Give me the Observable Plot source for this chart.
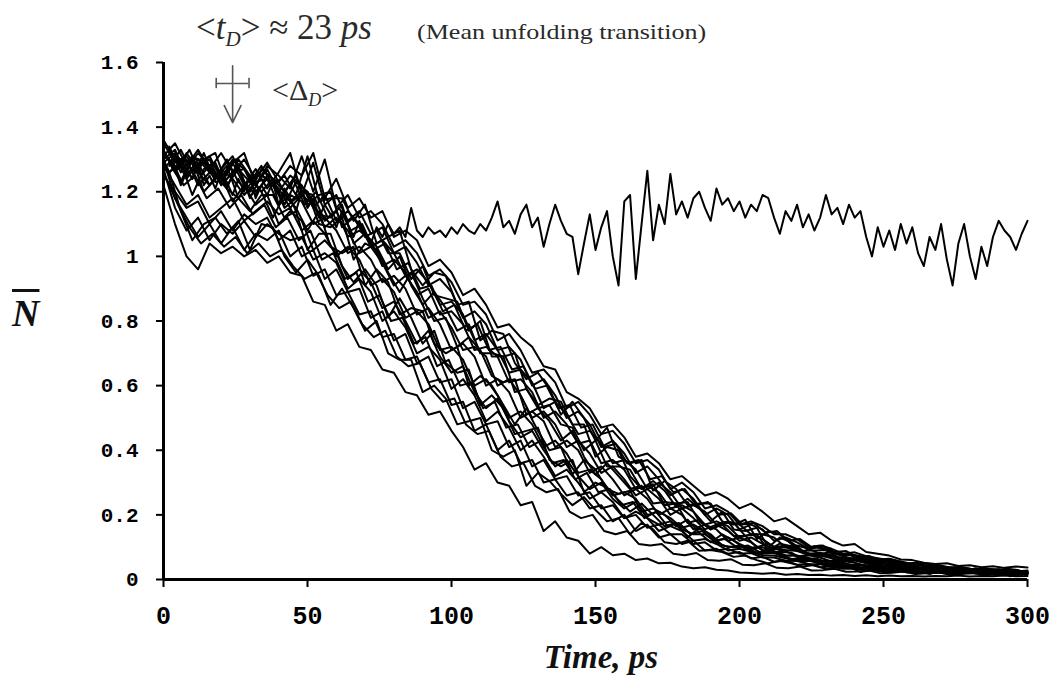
<!DOCTYPE html>
<html><head><meta charset="utf-8">
<script src="https://cdn.jsdelivr.net/npm/d3@7"></script>
<script src="https://cdn.jsdelivr.net/npm/@observablehq/plot@0.6"></script>
<style>
body{margin:0;background:#fff;}
#wrap{position:relative;width:1058px;height:694px;overflow:hidden;font-family:"Liberation Serif",serif;background:#fff;}
#chart{position:absolute;left:0;top:0;}
.ann{position:absolute;white-space:nowrap;color:#2a2a2a;line-height:1;}
.ann sub{font-size:0.6em;vertical-align:-0.35em;line-height:0;}
</style></head><body>
<div id="wrap">
  <div id="chart"></div>
  <div class="ann" id="tD" style="left:196px;top:10px;font-size:35px;">&lt;<i>t</i><sub><i>D</i></sub>&gt; ≈ 23 <i>ps</i></div>
  <div class="ann" id="mean" style="left:417px;top:22px;font-size:21px;transform:scaleX(1.24);transform-origin:left top;">(Mean unfolding transition)</div>
  <div class="ann" id="dD" style="left:272px;top:75px;font-size:30px;">&lt;Δ<sub><i>D</i></sub>&gt;</div>
  <div class="ann" id="ylab" style="left:12px;top:294px;font-size:38px;font-weight:bold;color:#111;"><i style="text-decoration:overline;">N</i></div>
  <div class="ann" id="xlab" style="left:601px;top:641px;font-size:33px;font-weight:bold;color:#111;transform:translateX(-50%);"><i>Time, ps</i></div>
</div>
<script>
// ---- tick labels ----
const xTicks = [0, 50, 100, 150, 200, 250, 300];
const yTicks = [0, 0.2, 0.4, 0.6, 0.8, 1, 1.2, 1.4, 1.6];

// ---- sampling times (ps) ----
const t0 = d3.range(0, 301, 4);       // 0,4,...,300
const t1 = d3.range(1, 300, 4);       // 1,5,...,297
const t2 = d3.range(2, 300, 4);       // 2,6,...,298
const t3 = d3.range(3, 300, 4);       // 3,7,...,299
const tPlateau = d3.range(0, 301, 2); // non-unfolding trajectory, every 2 ps

// ---- decaying trajectories (N-bar values) ----
const trA = [1.22,1.10,1.00,0.96,1.04,1.01,1.03,1.00,1.02,0.98,1.00,0.95,0.94,0.86,0.85,0.77,0.79,0.72,0.71,0.65,
  0.64,0.58,0.57,0.51,0.52,0.46,0.41,0.34,0.36,0.30,0.29,0.23,0.24,0.15,0.18,0.13,0.12,0.08,0.10,0.075,
  0.08,0.06,0.065,0.05,0.052,0.04,0.035,0.038,0.03,0.028,0.022,0.02,0.018,0.02,0.015,0.017,0.014,0.015,0.012,0.014,
  0.011,0.013,0.01,0.012,0.01,0.011,0.009,0.011,0.01,0.012,0.009,0.011,0.01,0.012,0.01,0.011];
const trB = [1.30,1.18,1.12,1.06,1.10,1.04,1.09,1.02,1.07,1.05,1.08,1.00,1.03,0.94,0.96,0.88,0.89,0.82,0.83,0.75,
  0.76,0.68,0.69,0.61,0.62,0.54,0.55,0.46,0.48,0.40,0.43,0.36,0.37,0.30,0.31,0.26,0.27,0.22,0.23,0.18,
  0.20,0.15,0.17,0.13,0.14,0.11,0.12,0.09,0.095,0.08,0.085,0.065,0.07,0.055,0.058,0.046,0.048,0.038,0.04,0.033,
  0.034,0.028,0.03,0.025,0.027,0.022,0.024,0.02,0.022,0.018,0.02,0.017,0.019,0.016,0.018,0.016];
const trC = [1.25,1.20,1.15,1.17,1.10,1.14,1.08,1.13,1.10,1.12,1.05,1.08,1.00,1.02,0.93,0.96,0.89,0.90,0.81,0.83,
  0.74,0.76,0.67,0.69,0.61,0.62,0.53,0.55,0.48,0.49,0.41,0.43,0.35,0.37,0.31,0.32,0.26,0.27,0.22,0.23,
  0.19,0.20,0.16,0.17,0.14,0.14,0.11,0.115,0.09,0.095,0.08,0.082,0.068,0.068,0.058,0.057,0.048,0.047,0.039,0.04,
  0.034,0.034,0.029,0.03,0.025,0.026,0.022,0.024,0.021,0.022,0.019,0.021,0.018,0.02,0.017,0.019];
const trD = [1.32,1.27,1.30,1.22,1.26,1.25,1.17,1.22,1.16,1.19,1.10,1.14,1.11,1.02,1.05,1.01,0.93,0.96,0.92,0.84,
  0.86,0.80,0.73,0.77,0.69,0.64,0.66,0.58,0.53,0.56,0.49,0.44,0.46,0.40,0.35,0.37,0.32,0.28,0.30,0.25,
  0.22,0.24,0.19,0.17,0.18,0.155,0.14,0.14,0.115,0.10,0.105,0.088,0.08,0.083,0.068,0.06,0.063,0.052,0.047,0.048,
  0.039,0.036,0.037,0.031,0.028,0.03,0.025,0.023,0.025,0.022,0.02,0.023,0.02,0.018,0.02,0.019];
const trE = [1.28,1.22,1.16,1.19,1.12,1.15,1.18,1.11,1.14,1.17,1.13,1.15,1.08,1.11,1.07,1.00,1.03,0.99,0.91,0.93,
  0.89,0.81,0.83,0.79,0.71,0.72,0.68,0.60,0.62,0.57,0.50,0.52,0.48,0.41,0.43,0.39,0.33,0.34,0.31,0.26,
  0.27,0.25,0.20,0.21,0.19,0.16,0.17,0.15,0.12,0.13,0.11,0.095,0.10,0.088,0.075,0.074,0.067,0.057,0.058,0.052,
  0.043,0.044,0.04,0.034,0.034,0.031,0.027,0.028,0.026,0.022,0.024,0.023,0.02,0.022,0.021,0.019];
const trF = [1.35,1.29,1.31,1.26,1.22,1.27,1.24,1.19,1.23,1.24,1.16,1.19,1.17,1.10,1.12,1.08,1.01,1.03,0.99,0.92,
  0.94,0.90,0.82,0.84,0.79,0.71,0.73,0.69,0.60,0.62,0.58,0.50,0.52,0.49,0.41,0.43,0.40,0.33,0.35,0.31,
  0.26,0.28,0.25,0.20,0.22,0.20,0.155,0.17,0.155,0.12,0.13,0.115,0.09,0.095,0.088,0.072,0.075,0.068,0.055,0.058,
  0.052,0.042,0.044,0.04,0.033,0.035,0.031,0.026,0.028,0.026,0.022,0.025,0.023,0.02,0.023,0.021];
const trG = [1.30,1.33,1.25,1.28,1.30,1.22,1.26,1.27,1.20,1.24,1.21,1.15,1.19,1.16,1.09,1.12,1.08,1.01,1.03,0.98,
  0.91,0.94,0.89,0.81,0.83,0.78,0.71,0.72,0.69,0.60,0.62,0.57,0.50,0.52,0.48,0.41,0.43,0.39,0.33,0.35,
  0.31,0.26,0.28,0.25,0.20,0.22,0.19,0.155,0.17,0.15,0.12,0.13,0.11,0.095,0.10,0.088,0.076,0.074,0.066,0.057,
  0.059,0.05,0.043,0.044,0.039,0.033,0.034,0.031,0.027,0.028,0.026,0.022,0.025,0.023,0.02,0.023];
const trH = [1.27,1.31,1.24,1.29,1.22,1.27,1.31,1.23,1.19,1.25,1.23,1.17,1.20,1.19,1.11,1.14,1.06,1.08,1.05,0.97,
  0.99,0.95,0.88,0.90,0.82,0.83,0.79,0.71,0.72,0.69,0.61,0.62,0.58,0.50,0.52,0.48,0.42,0.43,0.36,0.37,
  0.34,0.28,0.29,0.27,0.22,0.23,0.21,0.17,0.18,0.165,0.13,0.14,0.125,0.10,0.105,0.092,0.08,0.083,0.072,0.062,
  0.064,0.056,0.048,0.05,0.042,0.036,0.038,0.033,0.028,0.03,0.027,0.024,0.026,0.025,0.022,0.024];
const trI = [1.33,1.26,1.32,1.27,1.31,1.24,1.29,1.32,1.22,1.27,1.20,1.25,1.22,1.15,1.19,1.11,1.14,1.10,1.03,1.05,
  1.01,0.94,0.96,0.92,0.85,0.86,0.82,0.74,0.76,0.71,0.64,0.65,0.61,0.53,0.55,0.51,0.45,0.46,0.42,0.36,
  0.37,0.34,0.28,0.30,0.27,0.22,0.23,0.21,0.17,0.18,0.17,0.14,0.14,0.13,0.10,0.105,0.095,0.08,0.084,0.072,
  0.062,0.064,0.056,0.048,0.05,0.041,0.036,0.038,0.033,0.028,0.031,0.027,0.024,0.027,0.025,0.022];
const trJ = [1.29,1.32,1.25,1.30,1.26,1.23,1.29,1.22,1.27,1.21,1.26,1.32,1.19,1.29,1.16,1.19,1.11,1.14,1.07,1.09,
  1.01,1.03,0.98,0.91,0.93,0.89,0.81,0.83,0.79,0.71,0.72,0.68,0.60,0.62,0.57,0.50,0.52,0.48,0.41,0.43,
  0.39,0.33,0.35,0.31,0.26,0.28,0.25,0.20,0.22,0.20,0.155,0.17,0.155,0.12,0.13,0.115,0.095,0.10,0.088,0.075,
  0.076,0.068,0.057,0.059,0.052,0.043,0.044,0.04,0.034,0.035,0.031,0.027,0.029,0.027,0.024,0.026];
const trK = [1.36,1.30,1.27,1.32,1.28,1.24,1.30,1.27,1.22,1.28,1.25,1.21,1.31,1.20,1.30,1.15,1.19,1.12,1.14,1.10,
  1.03,1.05,1.01,0.94,0.96,0.92,0.85,0.86,0.82,0.74,0.76,0.71,0.64,0.65,0.61,0.53,0.55,0.51,0.45,0.46,
  0.42,0.36,0.37,0.34,0.28,0.30,0.27,0.22,0.23,0.21,0.17,0.18,0.165,0.14,0.14,0.125,0.10,0.105,0.095,0.08,
  0.084,0.072,0.062,0.064,0.056,0.048,0.05,0.042,0.036,0.038,0.033,0.029,0.031,0.028,0.025,0.028];
const trL = [1.31,1.35,1.28,1.33,1.27,1.32,1.26,1.30,1.24,1.29,1.23,1.28,1.25,1.32,1.18,1.24,1.15,1.18,1.12,1.14,
  1.06,1.08,1.05,0.97,0.99,0.95,0.88,0.90,0.85,0.78,0.79,0.75,0.72,0.66,0.65,0.58,0.56,0.53,0.47,0.48,
  0.44,0.38,0.39,0.36,0.31,0.32,0.29,0.26,0.27,0.25,0.22,0.235,0.21,0.18,0.19,0.165,0.14,0.145,0.12,0.105,
  0.11,0.085,0.08,0.074,0.062,0.06,0.052,0.048,0.05,0.042,0.044,0.038,0.041,0.036,0.04,0.037];
const trM = [1.27,1.15,1.08,1.12,1.05,1.10,1.07,1.11,1.06,1.10,1.07,1.05,1.06,0.99,1.01,0.98,0.90,0.93,0.89,0.80,
  0.83,0.78,0.70,0.72,0.68,0.59,0.62,0.57,0.49,0.52,0.47,0.40,0.43,0.38,0.32,0.34,0.30,0.25,0.27,0.24,
  0.19,0.21,0.19,0.15,0.165,0.15,0.12,0.125,0.11,0.09,0.095,0.086,0.075,0.074,0.066,0.057,0.058,0.051,0.043,0.044,
  0.039,0.033,0.034,0.031,0.026,0.028,0.026,0.022,0.024,0.023,0.02,0.022,0.021,0.018,0.02,0.019];
// sampled at 1,5,...,297 ps
const trW = [1.24,1.16,1.09,1.04,1.07,1.03,1.06,1.01,1.04,1.00,1.02,0.97,0.93,0.95,0.88,0.84,0.86,0.79,0.75,0.77,
  0.69,0.66,0.67,0.59,0.55,0.56,0.48,0.45,0.46,0.38,0.35,0.36,0.29,0.27,0.28,0.21,0.19,0.20,0.15,0.14,
  0.15,0.11,0.105,0.11,0.08,0.075,0.082,0.06,0.058,0.063,0.046,0.044,0.05,0.036,0.035,0.04,0.028,0.029,0.033,0.024,
  0.025,0.028,0.019,0.021,0.025,0.017,0.019,0.022,0.015,0.017,0.021,0.014,0.016,0.02,0.015];
const trY = [1.31,1.27,1.33,1.25,1.29,1.24,1.30,1.21,1.26,1.23,1.18,1.24,1.16,1.20,1.12,1.15,1.08,1.10,1.02,1.04,
  0.96,0.98,0.90,0.91,0.83,0.85,0.77,0.79,0.71,0.72,0.65,0.66,0.59,0.60,0.53,0.54,0.47,0.48,0.41,0.42,
  0.36,0.37,0.31,0.32,0.27,0.28,0.23,0.24,0.20,0.205,0.17,0.175,0.145,0.15,0.12,0.125,0.10,0.105,0.085,0.088,
  0.07,0.073,0.058,0.061,0.049,0.052,0.042,0.045,0.037,0.039,0.032,0.035,0.03,0.033,0.029];
// sampled at 2,6,...,298 ps
const trN = [1.29,1.23,1.30,1.20,1.24,1.28,1.18,1.14,1.19,1.19,1.12,1.14,1.02,1.07,1.07,0.97,0.92,0.96,0.91,0.81,
  0.87,0.81,0.73,0.77,0.67,0.64,0.65,0.54,0.57,0.53,0.45,0.46,0.47,0.37,0.35,0.37,0.27,0.30,0.285,0.245,
  0.21,0.235,0.20,0.165,0.175,0.13,0.16,0.14,0.105,0.10,0.103,0.082,0.086,0.077,0.063,0.069,0.055,0.045,0.053,0.045,
  0.036,0.043,0.029,0.034,0.037,0.021,0.028,0.022,0.029,0.021,0.025,0.017,0.027,0.015,0.02];
const trO = [1.26,1.29,1.19,1.27,1.29,1.21,1.18,1.24,1.20,1.12,1.19,1.15,1.08,1.14,1.03,1.01,1.03,0.91,0.96,0.92,
  0.82,0.84,0.83,0.73,0.70,0.72,0.60,0.63,0.60,0.54,0.48,0.53,0.46,0.40,0.41,0.325,0.37,0.34,0.28,0.265,
  0.275,0.21,0.22,0.20,0.165,0.185,0.145,0.115,0.14,0.12,0.095,0.101,0.083,0.086,0.083,0.062,0.065,0.055,0.058,0.046,
  0.046,0.034,0.043,0.031,0.033,0.034,0.024,0.034,0.019,0.026,0.032,0.017,0.014,0.024,0.026];
const trQ = [1.32,1.30,1.24,1.32,1.23,1.24,1.28,1.18,1.25,1.23,1.15,1.18,1.20,1.10,1.09,1.12,0.99,1.04,1.02,0.95,
  0.89,0.95,0.87,0.80,0.81,0.72,0.75,0.71,0.63,0.61,0.62,0.51,0.53,0.49,0.43,0.46,0.38,0.325,0.36,0.32,
  0.28,0.29,0.235,0.24,0.235,0.175,0.185,0.155,0.17,0.135,0.135,0.10,0.111,0.092,0.09,0.088,0.072,0.076,0.057,0.06,
  0.062,0.043,0.035,0.042,0.043,0.032,0.036,0.02,0.03,0.034,0.022,0.018,0.028,0.024,0.014];
const trR = [1.33,1.22,1.30,1.30,1.25,1.21,1.30,1.25,1.20,1.24,1.16,1.23,1.20,1.13,1.12,1.16,1.04,1.07,1.03,0.96,
  1.00,0.91,0.85,0.89,0.84,0.77,0.79,0.70,0.70,0.69,0.58,0.59,0.53,0.54,0.48,0.47,0.40,0.43,0.35,0.35,
  0.34,0.28,0.295,0.23,0.235,0.24,0.18,0.155,0.175,0.175,0.135,0.14,0.09,0.111,0.103,0.085,0.077,0.08,0.07,0.055,
  0.064,0.056,0.043,0.052,0.036,0.035,0.04,0.023,0.034,0.03,0.02,0.027,0.032,0.018,0.019];
const trS = [1.34,1.26,1.31,1.29,1.24,1.30,1.23,1.20,1.27,1.24,1.20,1.25,1.16,1.19,1.20,1.09,1.12,1.06,1.08,1.01,
  1.01,0.93,0.97,0.88,0.87,0.86,0.77,0.80,0.69,0.69,0.70,0.59,0.54,0.56,0.55,0.48,0.48,0.38,0.41,0.40,
  0.32,0.28,0.305,0.275,0.225,0.25,0.22,0.18,0.21,0.155,0.15,0.16,0.10,0.13,0.115,0.089,0.09,0.091,0.07,0.065,
  0.069,0.049,0.056,0.053,0.041,0.033,0.045,0.036,0.026,0.032,0.019,0.032,0.03,0.021,0.021];
const trU = [1.28,1.33,1.26,1.30,1.32,1.22,1.27,1.23,1.28,1.22,1.25,1.19,1.31,1.17,1.18,1.18,1.11,1.16,1.04,1.06,
  1.08,0.96,0.91,0.95,0.94,0.85,0.86,0.74,0.77,0.76,0.67,0.62,0.64,0.59,0.51,0.55,0.50,0.43,0.47,0.38,
  0.36,0.37,0.275,0.305,0.28,0.23,0.235,0.235,0.18,0.17,0.185,0.125,0.15,0.14,0.11,0.085,0.103,0.09,0.078,0.078,
  0.06,0.069,0.063,0.05,0.046,0.051,0.033,0.04,0.036,0.026,0.035,0.024,0.018,0.03,0.026];
const trV = [1.26,1.14,1.05,1.10,1.12,1.07,1.11,1.02,1.10,1.09,1.00,0.95,0.99,0.94,0.85,0.90,0.84,0.77,0.80,0.70,
  0.68,0.68,0.58,0.60,0.56,0.48,0.49,0.50,0.40,0.38,0.40,0.29,0.33,0.305,0.265,0.23,0.255,0.215,0.18,0.19,
  0.14,0.175,0.155,0.115,0.11,0.12,0.089,0.091,0.085,0.07,0.074,0.06,0.05,0.058,0.05,0.04,0.045,0.032,0.037,0.039,
  0.023,0.029,0.023,0.03,0.022,0.026,0.017,0.028,0.018,0.022,0.023,0.014,0.025,0.01,0.018];
// sampled at 3,7,...,299 ps
const trX = [1.29,1.22,1.25,1.18,1.21,1.15,1.19,1.13,1.16,1.09,1.12,1.05,1.08,0.99,1.01,0.93,0.95,0.86,0.88,0.80,
  0.81,0.73,0.75,0.66,0.68,0.60,0.61,0.53,0.55,0.47,0.48,0.41,0.43,0.36,0.37,0.31,0.33,0.27,0.28,0.23,
  0.24,0.19,0.21,0.165,0.175,0.14,0.15,0.12,0.125,0.10,0.105,0.085,0.09,0.072,0.075,0.06,0.064,0.05,0.053,0.042,
  0.045,0.035,0.038,0.03,0.033,0.026,0.029,0.022,0.026,0.02,0.024,0.019,0.023,0.018,0.022];

// ---- the one trajectory that does not unfold (stays near 1.1), every 2 ps ----
const trP = [1.30,1.26,1.28,1.23,1.27,1.24,1.29,1.22,1.25,1.21,
  1.26,1.23,1.19,1.24,1.20,1.25,1.18,1.22,1.19,1.23,
  1.16,1.21,1.18,1.14,1.20,1.15,1.18,1.12,1.16,1.13,
  1.09,1.14,1.10,1.06,1.11,1.07,1.04,1.09,1.06,1.10,
  1.07,1.09,1.06,1.15,1.08,1.06,1.09,1.07,1.08,1.06,
  1.09,1.07,1.10,1.08,1.07,1.10,1.08,1.12,1.17,1.09,
  1.11,1.07,1.13,1.16,1.09,1.12,1.03,1.10,1.16,1.11,
  1.07,1.06,0.945,1.04,1.13,1.02,1.09,1.14,1.00,0.91,
  1.17,1.19,0.93,1.10,1.265,1.05,1.16,1.10,1.255,1.13,
  1.17,1.12,1.18,1.20,1.15,1.11,1.21,1.16,1.18,1.14,
  1.17,1.12,1.16,1.14,1.19,1.18,1.12,1.07,1.14,1.11,
  1.16,1.09,1.13,1.08,1.12,1.19,1.13,1.15,1.10,1.16,
  1.12,1.14,1.06,1.00,1.09,1.03,1.08,1.02,1.10,1.04,
  1.09,1.01,0.97,1.06,1.02,1.10,0.99,0.91,1.04,1.10,
  1.00,0.93,1.03,0.97,1.06,1.11,1.08,1.06,1.02,1.07,
  1.11];

// ---- annotation: mean unfolding time and its spread ----
const meanT = [24];        // ps (arrow position)
const spreadT = [5.7];     // ps (half width of <Δ_D> bar)
const barLevel = [1.535];  // N-bar level of the horizontal bar
const arrowFrom = [1.59];
const arrowTo = [1.414];

const groups = [
  [t0, {A: trA, B: trB, C: trC, D: trD, E: trE, F: trF, G: trG, H: trH, I: trI, J: trJ, K: trK, L: trL, M: trM}],
  [t1, {W: trW, Y: trY}],
  [t2, {N: trN, O: trO, Q: trQ, R: trR, S: trS, U: trU, V: trV}],
  [t3, {X: trX}],
  [tPlateau, {P: trP}]
];
const rows = [];
for (const [times, set] of groups)
  for (const [id, vals] of Object.entries(set))
    vals.forEach((v, i) => { if (i < times.length) rows.push({id, t: times[i], v}); });

const ann = [{t: meanT[0], s: spreadT[0], y: barLevel[0], y1: arrowFrom[0], y2: arrowTo[0]}];
const fmtY = d => String(+d.toFixed(1));

const chart = Plot.plot({
  width: 1058, height: 694,
  marginLeft: 163, marginRight: 31, marginTop: 62, marginBottom: 115,
  x: {domain: [0, 300]},
  y: {domain: [0, 1.6]},
  style: {background: "#fff", overflow: "visible"},
  marks: [
    Plot.line(rows, {x: "t", y: "v", z: "id", stroke: "#000", strokeWidth: 2, strokeLinejoin: "round"}),
    Plot.ruleX([0], {y1: 0, y2: 1.6, stroke: "#000", strokeWidth: 3}),
    Plot.ruleY([0], {x1: 0, x2: 300, stroke: "#000", strokeWidth: 3}),
    Plot.axisY({ticks: yTicks, tickFormat: fmtY, tickSize: 7, tickPadding: 18, strokeWidth: 2,
      fontSize: 21, fontWeight: "bold", fontFamily: "Liberation Mono", fill: "#000", label: null}),
    Plot.axisX({ticks: xTicks, tickSize: 8, tickPadding: 19, strokeWidth: 2,
      fontSize: 25, fontWeight: "bold", fontFamily: "Liberation Mono", fill: "#000", label: null}),
    // <Δ_D> bar with caps and the arrow at <t_D>
    Plot.ruleY(ann, {y: "y", x1: d => d.t - d.s, x2: d => d.t + d.s, stroke: "#555", strokeWidth: 1.6}),
    Plot.ruleX(ann, {x: d => d.t - d.s, y1: d => d.y - 0.016, y2: d => d.y + 0.016, stroke: "#555", strokeWidth: 1.6}),
    Plot.ruleX(ann, {x: d => d.t + d.s, y1: d => d.y - 0.016, y2: d => d.y + 0.016, stroke: "#555", strokeWidth: 1.6}),
    Plot.arrow(ann, {x1: "t", x2: "t", y1: "y1", y2: "y2", stroke: "#555", strokeWidth: 1.6, headLength: 18, headAngle: 52})
  ]
});
document.getElementById("chart").appendChild(chart);
</script>
</body></html>
